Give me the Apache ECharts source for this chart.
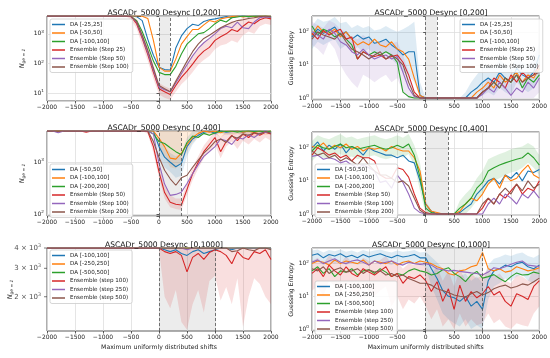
<!DOCTYPE html>
<html><head><meta charset="utf-8">
<script src="https://cdn.jsdelivr.net/npm/echarts@6/dist/echarts.min.js"></script>
<style>html,body{margin:0;padding:0;background:#fff}#c{width:550px;height:358px}</style>
</head><body><div id="c"></div>
<script>
// ---------- DATA ----------
const shifts = [-2000,-1900,-1800,-1700,-1600,-1500,-1400,-1300,-1200,-1100,-1000,-900,-800,-700,-600,-500,-400,-300,-200,-100,0,100,200,300,400,500,600,700,800,900,1000,1100,1200,1300,1400,1500,1600,1700,1800,1900,2000];

const titles = ['ASCADr_5000 Desync [0,200]','ASCADr_5000 Desync [0,200]','ASCADr_5000 Desync [0,400]','ASCADr_5000 Desync [0,400]','ASCADr_5000 Desync [0,1000]','ASCADr_5000 Desync [0,1000]'];
const names1 = ['DA [-25,25]','DA [-50,50]','DA [-100,100]','Ensemble (Step 25)','Ensemble (Step 50)','Ensemble (Step 100)'];
const names2 = ['DA [-50,50]','DA [-100,100]','DA [-200,200]','Ensemble (Step 50)','Ensemble (Step 100)','Ensemble (Step 200)'];
const names3 = ['DA [-100,100]','DA [-250,250]','DA [-500,500]','Ensemble (step 100)','Ensemble (step 250)','Ensemble (step 500)'];
const windows = [[0,200],[0,200],[0,400],[0,400],[0,1000],[0,1000]];
const xName = 'Maximum uniformly distributed shifts';
const yNameRight = 'Guessing Entropy';
const p5Ticks = [2000,3000,4000];
const p5TickMant = ['2','3','4'];

// Panel 1: N_ge=1, Desync [0,200]
const p1Blue   = [4000,4000,4000,4000,4000,4000,4000,4000,4000,4000,4000,4000,4000,4000,4000,4000,3800,2800,650,190,75,62,60,330,850,1500,2100,1900,2600,3000,3200,3500,3800,3500,3900,4000,3800,3900,4000,3700,3800];
const p1Orange = [4000,4000,4000,4000,4000,4000,4000,4000,4000,4000,4000,4000,4000,4000,4000,4000,4000,3900,3300,600,75,55,55,140,450,800,1400,1400,2000,2800,2500,3200,3500,3800,4000,3700,4000,3800,4000,4000,3900];
const p1Green  = [4000,4000,4000,4000,4000,4000,4000,4000,4000,4000,4000,4000,4000,4000,4000,3900,2800,1200,400,120,50,42,42,80,210,450,680,1000,1100,1500,2200,2900,2500,3500,3700,4000,3800,4000,3900,4000,3800];
const p1Red    = [4000,4000,4000,4000,4000,4000,4000,4000,4000,4000,4000,4000,4000,4000,4000,3800,2200,700,200,50,14,11,9,18,34,55,95,170,260,350,600,800,1000,1400,1200,1800,2500,2200,3000,3500,3200];
const p1Purple = [4000,4000,4000,4000,4000,4000,4000,4000,4000,4000,4000,4000,4000,4000,4000,3900,2500,800,230,60,16,13,11,22,45,90,180,320,500,700,1000,1500,1800,1600,2500,1600,1500,2500,3500,3800,3600];
const p1Brown  = [4000,4000,4000,4000,4000,4000,4000,4000,4000,4000,4000,4000,4000,4000,4000,3900,2600,900,280,70,18,14,11,25,55,120,250,450,700,900,1200,1600,2000,2400,2800,3000,3300,3500,3800,4000,3700];
const p1RedLow  = [4000,4000,4000,4000,4000,4000,4000,4000,4000,4000,4000,4000,4000,4000,4000,3000,1500,400,120,30,9,7,6,11,20,30,50,90,130,180,300,400,450,600,500,900,1200,1000,1800,2200,2000];
const p1RedHigh = [4000,4000,4000,4000,4000,4000,4000,4000,4000,4000,4000,4000,4000,4000,4000,4000,3200,1200,350,90,22,17,14,30,60,100,180,330,500,700,1200,1600,2000,2800,2400,3600,4000,4000,4000,4000,4000];

// Panel 2: Guessing entropy, Desync [0,200]
const p2Blue   = [70,120,90,110,140,80,100,60,80,60,70,45,50,60,40,30,20,25,25,1.2,1,1,1,1,1,1,1,1,1.5,2,3,4,3,6,4,3,8,5,4,6,20];
const p2Orange = [80,150,100,90,120,70,100,60,40,50,40,60,40,35,50,30,25,15,4,1.2,1,1,1,1,1,1,1,1,1,1.5,2,3,2,5,3,4,6,3,5,4,8];
const p2Green  = [150,80,120,100,70,90,60,40,15,25,20,25,20,25,20,12,1.5,1.1,1,1,1,1,1,1,1,1,1,1,1,1,1.5,2,3,2,4,3,5,2,4,3,5];
const p2Red    = [90,60,110,80,100,120,60,70,15,25,20,18,20,15,18,20,12,5,1.5,1,1,1,1,1,1,1,1,1,1,1,1.5,2,4,3,2,5,3,6,4,5,10];
const p2Purple = [100,80,60,120,90,50,40,25,20,30,20,15,18,20,15,18,6,2,1.1,1,1,1,1,1,1,1,1,1,1,1,1.3,2,1.5,3,2,1.2,2,1.5,3,2,4];
const p2Brown  = [60,100,80,70,60,90,50,30,25,20,15,20,25,15,20,15,10,3,1.2,1,1,1,1,1,1,1,1,1,1,1,1.5,2,3,2,4,3,5,3,4,5,6];
const p2BlueLow  = [30,50,40,50,60,30,40,25,35,25,30,20,20,25,15,10,6,5,3,1,1,1,1,1,1,1,1,1,1,1,1.2,1.5,1.2,2,1.5,1.2,3,2,1.5,2,5];
const p2BlueHigh = [150,250,200,220,280,180,200,130,160,130,150,110,120,150,120,100,120,150,200,3,1,1,1,1,1,1,1,1.5,3,5,8,10,8,15,10,8,20,12,10,15,50];
const p2PurpleLow  = [40,30,20,50,30,10,5,3,2,5,4,3,4,5,3,4,1.5,1,1,1,1,1,1,1,1,1,1,1,1,1,1,1,1,1,1,1,1,1,1,1,1.5];
const p2PurpleHigh = [200,160,130,220,180,120,100,70,60,80,60,45,50,55,45,50,20,6,1.5,1,1,1,1,1,1,1,1,1,1,1,2,4,3,6,4,2.5,4,3,6,4,8];

// Panel 3: N_ge=1, Desync [0,400]
const p3Blue   = [4000,4000,4000,4000,4000,4000,4000,4000,4000,4000,4000,4000,4000,4000,4000,4000,4000,4000,4000,4000,2000,1250,1000,820,950,2000,2800,3300,3800,4000,3600,4000,3800,3900,4000,3800,4000,4000,3900,4000,3800];
const p3Orange = [4000,4000,4000,4000,4000,4000,4000,4000,4000,4000,4000,4000,4000,4000,4000,4000,4000,4000,4000,4000,2900,2000,1200,1150,1500,2200,3000,3600,4000,3800,4000,3700,4000,3900,4000,3800,4000,3700,4000,3900,4000];
const p3Green  = [4000,4000,4000,4000,4000,4000,4000,4000,4000,4000,4000,4000,4000,4000,4000,4000,4000,4000,4000,3500,2500,2300,1900,1600,1400,2400,3200,3000,3600,3300,3700,4000,3900,4000,3800,4000,4000,3900,4000,3800,4000];
const p3Red    = [4000,4000,4000,4000,4000,4000,4000,3800,4000,4000,4000,4000,4000,4000,4000,4000,4000,4000,3900,2000,650,260,170,155,150,300,600,1000,1600,2200,3000,1600,2500,3300,2600,3500,3000,3700,3300,3800,3500];
const p3Purple = [4000,4000,3700,4000,4000,4000,4000,4000,4000,4000,4000,4000,4000,4000,4000,4000,4000,4000,4000,3500,950,380,230,240,265,390,600,900,1300,1600,2000,2800,2600,2200,3000,2800,3400,3000,3600,3800,3700];
const p3Brown  = [4000,4000,4000,4000,4000,4000,4000,4000,4000,4000,4000,4000,4000,4000,4000,4000,4000,4000,4000,2500,1250,700,480,360,500,560,800,1100,1500,1900,2500,2800,2400,3200,2900,3500,3300,3700,3500,3900,3600];
const p3BlueLow    = [4000,4000,4000,4000,4000,4000,4000,4000,4000,4000,4000,4000,4000,4000,4000,4000,4000,4000,4000,4000,1300,800,650,500,550,1300,2200,3000,3400,3600,3300,3600,3400,3500,3600,3400,3600,3600,3500,3600,3400];
const p3BlueHigh   = [4000,4000,4000,4000,4000,4000,4000,4000,4000,4000,4000,4000,4000,4000,4000,4000,4000,4000,4000,4000,3000,2000,1500,1300,1500,3000,4000,4000,4000,4000,4000,4000,4000,4000,4000,4000,4000,4000,4000,4000,4000];
const p3OrangeLow  = [4000,4000,4000,4000,4000,4000,4000,4000,4000,4000,4000,4000,4000,4000,4000,4000,4000,4000,4000,4000,2000,1300,800,750,1000,1600,2400,3000,3500,3200,3500,3000,3500,3300,3500,3200,3500,3000,3500,3300,3500];
const p3OrangeHigh = [4000,4000,4000,4000,4000,4000,4000,4000,4000,4000,4000,4000,4000,4000,4000,4000,4000,4000,4000,4000,4000,4000,4000,4000,4000,4000,4000,4000,4000,4000,4000,4000,4000,4000,4000,4000,4000,4000,4000,4000,4000];
const p3RedLow  = [4000,4000,4000,4000,4000,4000,4000,4000,4000,4000,4000,4000,4000,4000,4000,4000,4000,4000,3500,1500,500,200,135,125,120,230,450,750,1200,1600,2200,1200,2000,2500,1800,2600,2200,2800,2400,3000,2600];
const p3RedHigh = [4000,4000,4000,4000,4000,4000,4000,4000,4000,4000,4000,4000,4000,4000,4000,4000,4000,4000,4000,2800,900,350,230,200,200,400,800,1300,2100,2900,4000,3000,4000,4000,3600,4000,4000,4000,4000,4000,4000];

// Panel 4: Guessing entropy, Desync [0,400]
const p4Blue   = [100,150,80,120,90,130,70,110,90,60,100,80,70,60,60,50,60,40,35,10,2,1.2,1,1,1,1,1.1,1.5,2,4,6,10,12,8,15,12,18,10,20,18,22];
const p4Orange = [110,100,140,90,120,100,130,90,110,80,100,90,100,80,110,90,80,80,50,20,2,1.2,1.1,1,1,1,1.2,2,3,2.5,4,8,12,6,15,10,12,20,30,15,12];
const p4Green  = [80,120,100,90,110,130,100,110,90,100,110,120,100,90,100,120,100,130,60,13,1.5,1.1,1,1,1,1,1.5,2,3,6,9,20,25,30,35,40,45,50,70,50,30];
const p4Red    = [60,100,80,60,70,50,60,40,60,50,50,40,15,12,12,25,22,13,4,1.5,1.1,1,1,1,1,1,1,1,1,1,1.5,3,2,4,3,5,8,4,6,5,10];
const p4Purple = [55,60,45,50,45,35,40,30,25,30,25,20,9,10,6,15,9,4,1.5,1.1,1,1,1,1,1,1,1,1,1,1,1,2,3,2,4,3,2,4,3,5,3];
const p4Brown  = [80,60,70,50,60,40,50,40,30,50,30,20,15,15,12,9,10,7,3,1.3,1,1,1,1,1,1,1,1,1,1,2,3,2,4,6,4,8,5,10,6,8];
const p4GreenLow  = [40,60,50,45,55,65,50,55,45,50,55,60,50,45,50,60,50,65,30,5,1,1,1,1,1,1,1,1,1.5,2.5,4,8,10,12,15,18,20,25,35,25,15];
const p4GreenHigh = [160,240,200,180,220,260,200,220,180,200,220,240,200,180,200,240,200,260,120,35,2.5,1.3,1,1,1,1,2.5,4,6,12,20,45,55,65,75,90,100,110,140,110,60];

// Panel 5: N_ge=1, Desync [0,1000]
const p5Blue   = [4000,4000,4000,4000,4000,4000,4000,4000,4000,4000,4000,4000,4000,4000,4000,4000,4000,4000,4000,4000,4000,3900,3800,3900,3700,3600,3800,3900,3700,3800,3900,4000,4000,3900,4000,4000,4000,4000,4000,4000,4000];
const p5Orange = [4000,4000,4000,4000,4000,4000,4000,4000,4000,4000,4000,4000,4000,4000,4000,4000,4000,4000,4000,4000,4000,4000,4000,4000,4000,4000,4000,4000,4000,4000,4000,4000,4000,4000,4000,4000,4000,4000,4000,4000,4000];
const p5Green  = [4000,4000,4000,4000,4000,4000,4000,4000,4000,4000,4000,4000,4000,4000,4000,4000,4000,4000,4000,4000,4000,4000,4000,4000,4000,4000,4000,4000,4000,4000,4000,4000,4000,4000,4000,4000,4000,4000,4000,4000,4000];
const p5Red    = [4000,4000,4000,4000,4000,4000,4000,4000,4000,4000,4000,4000,4000,4000,4000,4000,4000,4000,4000,4000,4000,3800,3700,3800,3600,2850,3500,3700,3400,3750,3900,3800,3600,3200,3800,3500,3400,3800,3700,3900,3400];
const p5Purple = [4000,4000,4000,4000,4000,4000,4000,4000,4000,4000,4000,4000,4000,4000,4000,4000,4000,4000,4000,4000,4000,4000,4000,4000,4000,3900,4000,4000,4000,4000,4000,4000,4000,4000,4000,4000,4000,4000,4000,4000,4000];
const p5Brown  = [4000,4000,4000,4000,4000,4000,4000,4000,4000,4000,4000,4000,4000,4000,4000,4000,4000,4000,4000,4000,4000,4000,4000,4000,4000,4000,4000,4000,4000,4000,4000,4000,4000,3800,3850,4000,3900,3850,4000,4000,3900];
const p5RedLow  = [4000,4000,4000,4000,4000,4000,4000,4000,4000,4000,4000,4000,4000,4000,4000,4000,4000,4000,4000,4000,3900,2000,1700,2200,1400,1250,1800,2200,1600,2500,2700,1900,2300,1800,2600,1300,2000,2600,2400,2000,1800];
const p5RedHigh = [4000,4000,4000,4000,4000,4000,4000,4000,4000,4000,4000,4000,4000,4000,4000,4000,4000,4000,4000,4000,4000,4000,4000,4000,4000,4000,4000,4000,4000,4000,4000,4000,4000,4000,4000,4000,4000,4000,4000,4000,4000];

// Panel 6: Guessing entropy, Desync [0,1000]
const p6Blue   = [180,200,150,190,170,200,160,180,150,190,160,180,200,170,150,180,160,170,190,150,150,70,35,15,10,9,7,10,5,7,4,30,60,70,90,80,100,110,80,70,90];
const p6Orange = [100,120,110,90,130,100,120,110,100,130,90,120,110,100,120,90,110,120,100,120,110,100,80,70,50,45,60,65,80,90,220,70,60,70,55,60,80,70,60,65,75];
const p6Green  = [60,80,50,70,40,60,55,70,45,60,65,50,70,55,40,50,45,60,70,60,55,45,50,65,75,50,40,28,45,58,36,40,46,35,28,40,52,45,46,55,50];
const p6Red    = [50,70,40,90,60,45,80,50,40,70,55,45,60,80,40,50,25,40,35,45,30,14,28,7,17,4,22,7,14,9,12,20,11,14,7,5,12,10,8,20,30];
const p6Purple = [110,130,100,120,140,110,100,120,130,110,90,120,100,110,120,100,90,110,100,95,100,90,70,65,60,62,58,55,52,50,45,55,75,70,80,95,110,120,90,85,80];
const p6Brown  = [70,60,80,50,65,75,55,60,70,50,65,55,60,45,50,40,45,35,30,25,25,22,17,15,13,11,10,9.5,12,14,11,13,17,20,22,18,20,24,22,28,36];
const p6RedLow   = [15,20,10,30,20,12,25,15,10,20,15,10,15,20,5,10,4,8,6,10,5,2,4,1.2,2,1,3,1.2,2,1.3,1.5,3,1.5,2,1.2,1,1.5,1.3,1.2,3,5];
const p6RedHigh  = [120,150,100,180,130,100,170,110,90,150,120,100,130,170,100,110,70,100,90,110,80,50,80,30,60,20,70,30,50,35,45,70,40,50,30,25,45,40,30,70,100];
const p6BlueLow  = [100,120,90,110,100,120,90,110,90,110,100,110,120,100,90,110,100,100,110,90,80,20,8,3,2,1.5,1.2,2,1,1.3,1,8,20,25,35,30,40,45,30,25,35];
const p6BlueHigh = [250,270,220,260,240,270,230,250,220,260,230,250,270,240,220,250,230,240,260,220,230,160,110,70,50,45,40,50,30,40,25,90,140,160,190,170,200,220,170,150,190];

// ---------- STYLE / LAYOUT ----------
const C = ['#1f77b4','#ff7f0e','#2ca02c','#d62728','#9467bd','#8c564b'];
const FONT = 'DejaVu Sans';
const panels = [
  {names:names1, series:[p1Blue,p1Orange,p1Green,p1Red,p1Purple,p1Brown]},
  {names:names1, series:[p2Blue,p2Orange,p2Green,p2Red,p2Purple,p2Brown]},
  {names:names2, series:[p3Blue,p3Orange,p3Green,p3Red,p3Purple,p3Brown]},
  {names:names2, series:[p4Blue,p4Orange,p4Green,p4Red,p4Purple,p4Brown]},
  {names:names3, series:[p5Blue,p5Orange,p5Green,p5Red,p5Purple,p5Brown]},
  {names:names3, series:[p6Blue,p6Orange,p6Green,p6Red,p6Purple,p6Brown]}
];
const layout = [
  {grid:{left:47,top:16,width:224,height:85}, ymin:5.4, ymax:4000, leg:{left:50,top:19}},
  {grid:{left:312,top:16,width:228,height:84}, ymin:0.87, ymax:300, leg:{left:460,top:19}},
  {grid:{left:47,top:131,width:224,height:85}, ymin:92, ymax:4000, leg:{left:50,top:164}},
  {grid:{left:312,top:132,width:228,height:83}, ymin:0.93, ymax:300, leg:{left:315,top:164}},
  {grid:{left:47,top:248,width:224,height:83}, ymin:1230, ymax:4000, leg:{left:50,top:250}},
  {grid:{left:312,top:248,width:228,height:83}, ymin:0.87, ymax:300, leg:{left:315,top:281}}
];
function rgba(hex, a){
  const n = parseInt(hex.slice(1),16);
  return 'rgba(' + (n>>16) + ',' + ((n>>8)&255) + ',' + (n&255) + ',' + a + ')';
}
const bands = [
  {panel:0, k:3, low:p1RedLow, high:p1RedHigh},
  {panel:1, k:0, low:p2BlueLow, high:p2BlueHigh},
  {panel:1, k:4, low:p2PurpleLow, high:p2PurpleHigh},
  {panel:2, k:0, low:p3BlueLow, high:p3BlueHigh},
  {panel:2, k:1, low:p3OrangeLow, high:p3OrangeHigh},
  {panel:2, k:3, low:p3RedLow, high:p3RedHigh},
  {panel:3, k:2, low:p4GreenLow, high:p4GreenHigh},
  {panel:4, k:3, low:p5RedLow, high:p5RedHigh},
  {panel:5, k:3, low:p6RedLow, high:p6RedHigh},
  {panel:5, k:0, low:p6BlueLow, high:p6BlueHigh}
];

function logLabel(v){
  const e = Math.log10(v), r = Math.round(e);
  if (Math.abs(e - r) > 1e-6) return '';
  return '{b|10}{s|' + r + '}';
}
const labRich = {
  b:{fontSize:6, fontFamily:FONT, color:'#222', lineHeight:8},
  s:{fontSize:4.2, fontFamily:FONT, color:'#222', verticalAlign:'top', lineHeight:5}
};
const xFmt = v => (v < 0 ? '\u2212' + Math.abs(v) : String(v));

const option = {animation:false, title:[], grid:[], xAxis:[], yAxis:[], legend:[], series:[]};

panels.forEach((p,i)=>{
  const L = layout[i];
  const isLeft = i % 2 === 0;
  const isBottom = i >= 4;
  option.grid.push(Object.assign({show:true, borderColor:'#333', borderWidth:0.8}, L.grid));
  option.title.push({text:titles[i], left:L.grid.left + L.grid.width/2, top:L.grid.top - 12, textAlign:'center',
    textStyle:{fontSize:7.6, fontWeight:'normal', color:'#111', fontFamily:FONT}});
  option.xAxis.push({gridIndex:i, type:'value', min:-2000, max:2000, interval:500,
    axisLine:{show:false}, axisTick:{show:true, length:2.5, lineStyle:{color:'#333', width:0.8}},
    axisLabel:{fontSize:6, color:'#222', margin:3, fontFamily:FONT, formatter:xFmt},
    splitLine:{show:true, lineStyle:{color:'#dedede', width:0.8}},
    name: isBottom ? xName : '', nameLocation:'middle', nameGap:13,
    nameTextStyle:{fontSize:6.2, color:'#222', fontFamily:FONT}});
  const ya = {gridIndex:i, type:'log', logBase:10, min:L.ymin, max:L.ymax,
    axisLine:{show:false}, axisTick:{show:true, length:2.5, lineStyle:{color:'#333', width:0.8}},
    axisLabel:{fontSize:6, color:'#222', margin:3, formatter:logLabel, rich:labRich},
    splitLine:{show:true, lineStyle:{color:'#dedede', width:0.8}},
    nameLocation:'middle', nameRotate:90};
  if (isLeft) {
    ya.name = '{n|N}{s|ge = 1}';
    ya.nameGap = (i === 4) ? 33 : 21;
    ya.nameTextStyle = {rich:{n:{fontSize:6.5, fontStyle:'italic', fontFamily:FONT, color:'#222'}, s:{fontSize:4.4, fontStyle:'italic', fontFamily:FONT, color:'#222', verticalAlign:'bottom'}}};
  } else {
    ya.name = yNameRight;
    ya.nameGap = 18;
    ya.nameTextStyle = {fontSize:6.2, color:'#222', fontFamily:FONT};
  }
  if (i === 4) {
    ya.axisLabel = {show:false};
    ya.axisTick = {show:false};
    ya.splitLine = {show:false};
  }
  option.yAxis.push(ya);

  // shaded window + dashed borders
  option.series.push({type:'line', xAxisIndex:i, yAxisIndex:i, data:[], silent:true, z:1,
    markArea:{silent:true, itemStyle:{color:'rgba(128,128,128,0.15)'}, data:[[{xAxis:windows[i][0]},{xAxis:windows[i][1]}]]},
    markLine:{silent:true, symbol:'none', label:{show:false}, animation:false,
      lineStyle:{color:'#555', type:[3,2], width:0.8}, data:[{xAxis:windows[i][0]},{xAxis:windows[i][1]}]}});

  // confidence bands (polygons through the axis scales)
  bands.filter(b=>b.panel===i).forEach(b=>{
    option.series.push({type:'custom', xAxisIndex:i, yAxisIndex:i, silent:true, z:1,
      data:[[0, L.ymax]],
      renderItem:(params, api)=>{
        const pts = [];
        for (let j=0;j<shifts.length;j++) pts.push(api.coord([shifts[j], b.high[j]]));
        for (let j=shifts.length-1;j>=0;j--) pts.push(api.coord([shifts[j], b.low[j]]));
        return {type:'polygon', shape:{points:pts}, style:{fill:rgba(C[b.k],0.15)}};
      }});
  });

  p.series.forEach((arr,k)=>{
    option.series.push({type:'line', name:i+'|'+p.names[k], xAxisIndex:i, yAxisIndex:i,
      data:shifts.map((x,j)=>[x,arr[j]]), symbol:'none', showSymbol:false, silent:true, z:2,
      lineStyle:{width:1.1, color:C[k]}, itemStyle:{color:C[k]}});
  });

  option.legend.push({left:L.leg.left, top:L.leg.top, orient:'vertical', selectedMode:false,
    data:p.names.map(n=>i+'|'+n), formatter:n=>n.split('|')[1],
    icon:'rect', itemWidth:13, itemHeight:1.5, itemGap:1.5, padding:[2,4,2,2],
    backgroundColor:'rgba(255,255,255,0.85)', borderColor:'#cccccc', borderWidth:0.8, borderRadius:2,
    textStyle:{fontSize:5.6, lineHeight:7, color:'#222', fontFamily:FONT}});
});

// custom tick labels for panel 5 (2 x 10^3, 3 x 10^3, 4 x 10^3)
option.series.push({type:'scatter', xAxisIndex:4, yAxisIndex:4, clip:false, silent:true, z:5,
  data:p5Ticks.map(v=>[-2000,v]),
  symbol:'rect', symbolSize:[3,0.8], symbolOffset:[-1.5,0], itemStyle:{color:'#333'},
  label:{show:true, position:'left', distance:3,
    formatter:(pr)=>'{a|' + p5TickMant[pr.dataIndex] + ' \u00d7 10}{s|3}',
    rich:{a:{fontSize:7, fontFamily:FONT, color:'#222', lineHeight:9}, s:{fontSize:4.8, fontFamily:FONT, color:'#222', verticalAlign:'top', lineHeight:6}}}});

const chart = echarts.init(document.getElementById('c'), null, {renderer:'canvas'});
chart.setOption(option);
</script></body></html>
